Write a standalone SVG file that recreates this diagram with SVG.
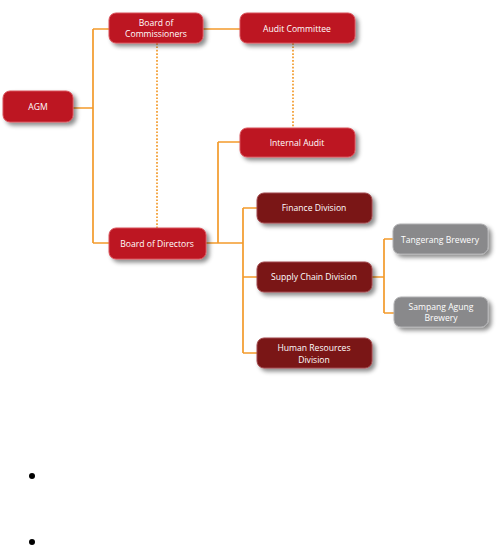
<svg xmlns="http://www.w3.org/2000/svg" width="497" height="545" viewBox="0 0 497 545">
<style>
.n{stroke-width:1;filter:url(#sh)}
.r{fill:#bd1520;stroke:#d9525a}
.d{fill:#7a1418;stroke:#a0474a}
.g{fill:#89898b;stroke:#b0b0b2}
text{font-family:"Open Sans","Liberation Sans",sans-serif;font-size:8.6px;fill:#fff;text-anchor:middle}
.c{fill:none;stroke:#f39a2b;stroke-width:1.7}
.dt{fill:none;stroke:#f39a2b;stroke-width:1.7;stroke-dasharray:1.7 1.7}
</style>
<defs>
<filter id="sh" x="-20%" y="-30%" width="150%" height="180%">
<feDropShadow dx="3" dy="3" stdDeviation="2" flood-color="#000" flood-opacity="0.45"/>
</filter>
</defs>
<rect width="497" height="545" fill="#fff"/>
<g id="connectors">
<path class="c" d="M73,108H93M93,29V243M93,29H109M93,243H109"/>
<path class="c" d="M203,29H240"/>
<path class="c" d="M206,243H243M218,142V243M218,142H240"/>
<path class="c" d="M243,208V353M243,208H257M243,277H257M243,353H257"/>
<path class="c" d="M372,277H384M384,239V313M384,239H393M384,313H394"/>
<path class="dt" d="M157,43V228"/>
<path class="dt" d="M293,43V128"/>
</g>
<g id="agm"><rect class="n r" x="3" y="91" width="70" height="31" rx="7"/><text x="38" y="110">AGM</text></g>
<g id="boc"><rect class="n r" x="109" y="13" width="94" height="30" rx="7"/><text x="156" y="26">Board of</text><text x="156" y="37">Commissioners</text></g>
<g id="audit-committee"><rect class="n r" x="240" y="13" width="115" height="30" rx="7"/><text x="297" y="32">Audit Committee</text></g>
<g id="internal-audit"><rect class="n r" x="240" y="128" width="115" height="29" rx="7"/><text x="297" y="146">Internal Audit</text></g>
<g id="bod"><rect class="n r" x="109" y="228" width="97" height="31" rx="7"/><text x="157" y="247">Board of Directors</text></g>
<g id="finance"><rect class="n d" x="257" y="193" width="115" height="30" rx="7"/><text x="314" y="211">Finance Division</text></g>
<g id="supply"><rect class="n d" x="257" y="262" width="115" height="30" rx="7"/><text x="314" y="280">Supply Chain Division</text></g>
<g id="hr"><rect class="n d" x="257" y="338" width="115" height="30" rx="7"/><text x="314" y="351">Human Resources</text><text x="314" y="363">Division</text></g>
<g id="tangerang"><rect class="n g" x="393" y="224" width="95" height="30" rx="7"/><text x="440" y="243">Tangerang Brewery</text></g>
<g id="sampang"><rect class="n g" x="394" y="297" width="94" height="30" rx="7"/><text x="441" y="310">Sampang Agung</text><text x="441" y="321">Brewery</text></g>
<circle cx="32" cy="476" r="3" fill="#000"/>
<circle cx="32" cy="542" r="3" fill="#000"/>
</svg>
